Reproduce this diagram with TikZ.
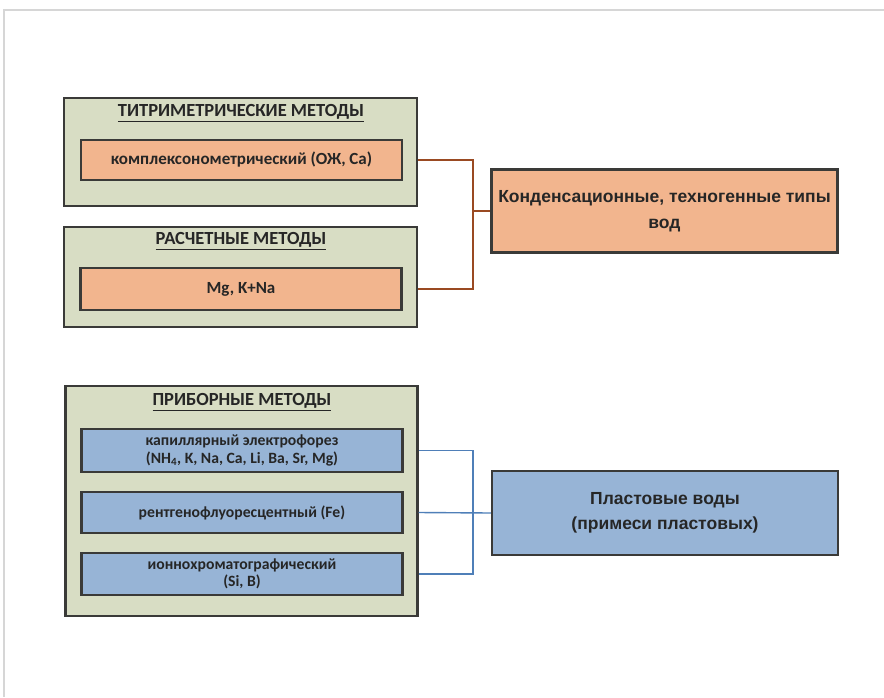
\documentclass[tikz,border=0pt]{standalone}
\usepackage{fontspec}
\setmainfont{Carlito}
\newfontfamily\arialfont{Liberation Sans}
\usepackage{xcolor}
\usetikzlibrary{positioning}
\definecolor{panelbg}{HTML}{D8DDC4}
\definecolor{peach}{HTML}{F2B58E}
\definecolor{skyblue}{HTML}{97B4D6}
\definecolor{edgegray}{HTML}{3A3A38}
\definecolor{brownline}{HTML}{9A4A22}
\definecolor{blueline}{HTML}{4F7FB8}
\definecolor{framegray}{HTML}{D6D6D6}
\tikzset{
  panel/.style={draw=edgegray, line width=2.4pt, fill=panelbg},
  paneltitle/.style={font=\fontsize{18.5}{22}\selectfont\bfseries, text=black!85},
  method/.style={draw=edgegray, line width=2.4pt, minimum width=321pt,
               align=center, text=black!85},
  orangemethod/.style={method, fill=peach, font=\fontsize{17}{20}\selectfont\bfseries},
  bluemethod/.style={method, fill=skyblue, font=\fontsize{15.7}{17.5}\selectfont\bfseries},
  target/.style={draw=edgegray, line width=2.4pt, minimum width=346pt,
               minimum height=83pt, align=center,
               font=\arialfont\fontsize{17.5}{25.5}\selectfont\bfseries, text=black!85},
  brownlink/.style={draw=brownline, line width=1.4pt},
  bluelink/.style={draw=blueline, line width=1.4pt},
}
\begin{document}
\begin{tikzpicture}[x=1pt, y=-1pt]
  \useasboundingbox (0,0) rectangle (884,697);
  \draw[framegray, line width=1.2pt] (884,10) -- (4,10) -- (4,697);

  % upper group
  \node[panel, minimum width=353pt, minimum height=108pt] (titr) at (240.5,152) {};
  \node[paneltitle] (titrhead) at (241,113) {\underline{ТИТРИМЕТРИЧЕСКИЕ МЕТОДЫ}};
  \node[orangemethod, minimum height=40pt] (titrin) at (241.5,160) {комплексонометрический (ОЖ, Са)};

  \node[panel, minimum width=353pt, minimum height=100pt] (rasch) at (240.5,277) {};
  \node[paneltitle] (raschhead) at (241,241) {\underline{РАСЧЕТНЫЕ МЕТОДЫ}};
  \node[orangemethod, minimum height=42pt] (raschin) at (241,289) {Mg, K+Na};

  \node[target, fill=peach] (condens) at (664.5,211) {Конденсационные, техногенные типы\\вод};

  \coordinate (cjoin) at (473,211);
  \draw[brownlink] (titr.east |- titrin) -| (cjoin) |- (rasch.east |- raschin);
  \draw[brownlink] (cjoin) -- (condens.west);

  % lower group
  \node[panel, minimum width=352pt, minimum height=230pt] (prib) at (241.5,501) {};
  \node[paneltitle] (pribhead) at (242,402) {\underline{ПРИБОРНЫЕ МЕТОДЫ}};
  \node[bluemethod, minimum height=43pt] (kapil) at (242,450.5) {капиллярный электрофорез\\(NH\textsubscript{4}, K, Na, Ca, Li, Ba, Sr, Mg)};
  \node[bluemethod, minimum height=41pt] (rentg) at (242,512.5) {рентгенофлуоресцентный (Fe)};
  \node[bluemethod, minimum height=42pt] (ionch) at (242,574) {ионнохроматографический\\(Si, B)};

  \node[target, fill=skyblue, minimum height=84pt] (plast) at (665,513) {Пластовые воды\\(примеси пластовых)};

  \coordinate (pjoin) at (473,512.5);
  \draw[bluelink] (prib.east |- kapil) -| (pjoin) |- (prib.east |- ionch);
  \draw[bluelink] (prib.east |- rentg) -- (plast.west);
\end{tikzpicture}
\end{document}
